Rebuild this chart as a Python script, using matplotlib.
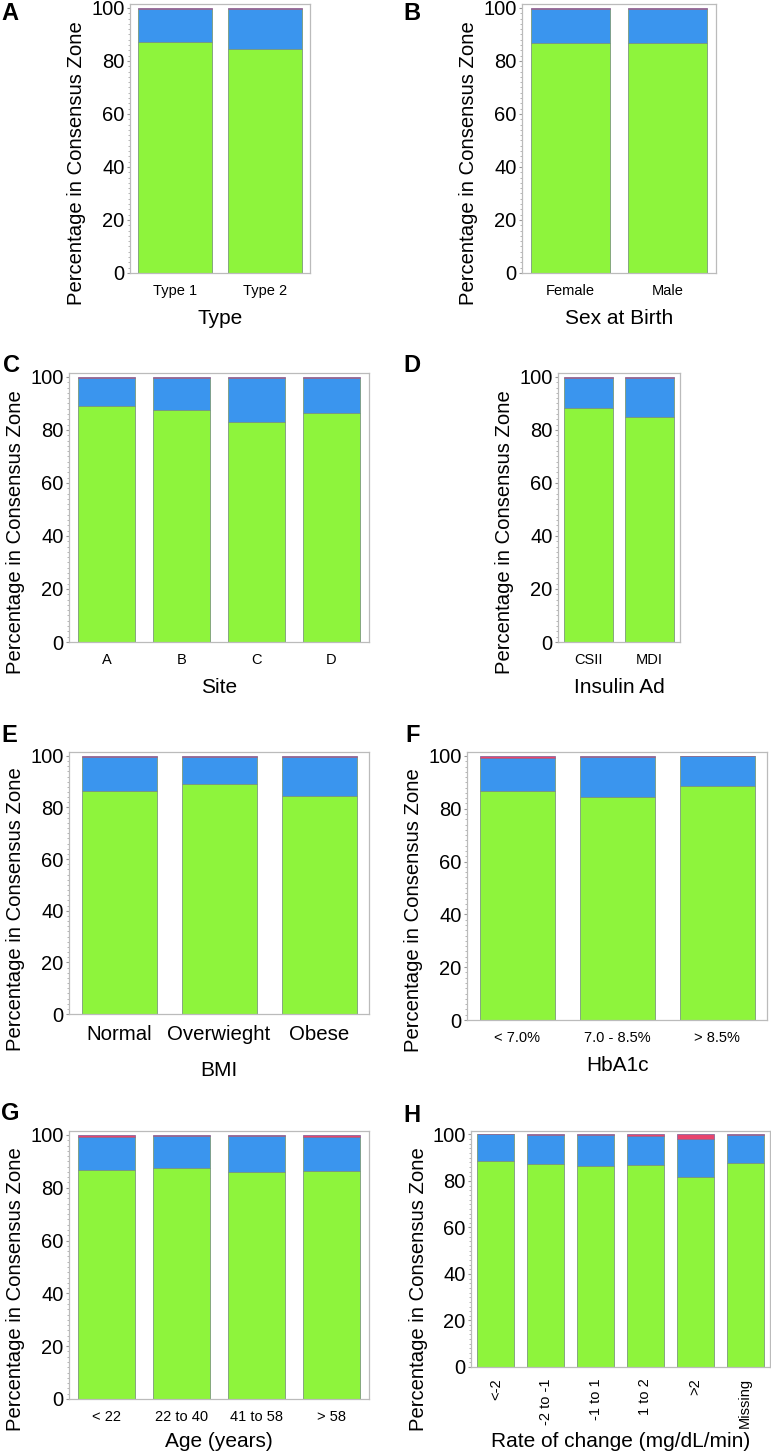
import matplotlib.pyplot as plt
from matplotlib.ticker import MultipleLocator

plt.rcParams['font.family'] = ['Liberation Sans', 'DejaVu Sans']

GREEN = '#8ef43c'
BLUE = '#3a95ee'
RED = '#e8456e'
EDGE = '#7a9a7a'

# Panel A - Type
type_cats = ['Type 1', 'Type 2']
type_green = [87.0, 84.4]
type_blue = [12.5, 15.1]
type_red = [0.5, 0.5]

# Panel B - Sex at birth
sex_cats = ['Female', 'Male']
sex_green = [86.6, 86.6]
sex_blue = [12.9, 12.9]
sex_red = [0.5, 0.5]

# Panel C - Site
site_cats = ['A', 'B', 'C', 'D']
site_green = [89.2, 87.4, 83.1, 86.3]
site_blue = [10.4, 12.2, 16.4, 13.4]
site_red = [0.4, 0.4, 0.5, 0.3]

# Panel D - Insulin administration
ins_cats = ['CSII', 'MDI']
ins_green = [88.3, 84.8]
ins_blue = [11.4, 14.8]
ins_red = [0.3, 0.4]

# Panel E - BMI
bmi_cats = ['Normal', 'Overwieght', 'Obese']
bmi_green = [86.4, 89.1, 84.4]
bmi_blue = [13.2, 10.5, 15.2]
bmi_red = [0.4, 0.4, 0.4]

# Panel F - HbA1c
hba_cats = ['< 7.0%', '7.0 - 8.5%', '> 8.5%']
hba_green = [86.8, 84.6, 88.7]
hba_blue = [12.4, 15.0, 11.1]
hba_red = [0.8, 0.4, 0.2]

# Panel G - Age
age_cats = ['< 22', '22 to 40', '41 to 58', '> 58']
age_green = [86.9, 87.5, 86.1, 86.5]
age_blue = [12.5, 12.2, 13.5, 12.9]
age_red = [0.6, 0.3, 0.4, 0.6]

# Panel H - Rate of change
roc_cats = ['<-2', '-2 to -1', '-1 to 1', '1 to 2', '>2', 'Missing']
roc_green = [88.5, 87.2, 86.3, 86.8, 81.6, 87.6]
roc_blue = [11.5, 12.5, 13.4, 12.5, 16.5, 12.1]
roc_red = [0.0, 0.3, 0.3, 0.7, 1.9, 0.3]

W, H = 771, 1456
fig = plt.figure(figsize=(W / 100, H / 100), dpi=100)


def make_axes(l, t, r, b):
    return fig.add_axes([l / W, 1 - b / H, (r - l) / W, (b - t) / H])


def panel(box, letter, letter_xy, cats, green, blue, red, xlabel,
          width=0.8, xfs=10.5, rot=0, ytop=101.5, label_y=0.41, xlpad=8):
    l, t, r, b = box
    ax = make_axes(l, t, r, b)
    x = list(range(len(cats)))
    ax.bar(x, green, width, color=GREEN, edgecolor=EDGE, linewidth=0.6)
    ax.bar(x, blue, width, bottom=green, color=BLUE, edgecolor=EDGE, linewidth=0.6)
    bot = [g + bl for g, bl in zip(green, blue)]
    ax.bar(x, red, width, bottom=bot, color=RED, edgecolor='#8a6a9a', linewidth=0.6)
    ax.set_xlim(-0.5, len(cats) - 0.5)
    ax.set_ylim(0, ytop)
    ax.set_yticks([0, 20, 40, 60, 80, 100])
    ax.yaxis.set_minor_locator(MultipleLocator(2))
    ax.tick_params(axis='y', labelsize=14.5, length=2, color='#999999', pad=2)
    ax.tick_params(axis='y', which='minor', length=1.5, color='#aaaaaa')
    ax.set_xticks(x)
    ax.set_xticklabels(cats, rotation=rot)
    ax.tick_params(axis='x', labelsize=xfs, length=0, pad=8)
    for s in ax.spines.values():
        s.set_color('#bbbbbb')
        s.set_linewidth(0.9)
    ax.set_ylabel('Percentage in Consensus Zone', fontsize=14.6, va='center')
    ax.yaxis.set_label_coords(-53 / (r - l), label_y)
    ax.set_xlabel(xlabel, fontsize=15, labelpad=xlpad)
    fig.text(letter_xy[0] / W, 1 - letter_xy[1] / H, letter, fontsize=17,
             fontweight='bold', ha='center', va='center')
    return ax


panel((130, 4, 310, 273), 'A', (10, 14), type_cats, type_green, type_blue, type_red,
      'Type', width=0.82)
panel((522, 4, 716, 273), 'B', (412, 14), sex_cats, sex_green, sex_blue, sex_red,
      'Sex at Birth', width=0.82)
panel((69, 373, 369, 642), 'C', (11, 366), site_cats, site_green, site_blue, site_red,
      'Site', width=0.75)
panel((558, 373, 680, 642), 'D', (412, 365), ins_cats, ins_green, ins_blue, ins_red,
      'Insulin Ad', width=0.8)
panel((69, 752, 369, 1014), 'E', (9, 736), bmi_cats, bmi_green, bmi_blue, bmi_red,
      'BMI', width=0.75, xfs=14.7, label_y=0.40, xlpad=12)
panel((467, 752, 767, 1020), 'F', (413, 736), hba_cats, hba_green, hba_blue, hba_red,
      'HbA1c', width=0.75)
panel((69, 1131, 369, 1399), 'G', (10, 1114), age_cats, age_green, age_blue, age_red,
      'Age (years)', width=0.75, xlpad=6)
panel((471, 1131, 770, 1367), 'H', (412, 1115), roc_cats, roc_green, roc_blue, roc_red,
      'Rate of change (mg/dL/min)', width=0.74, rot=90, label_y=0.33, xlpad=3)

fig.savefig('out.png', dpi=100)
